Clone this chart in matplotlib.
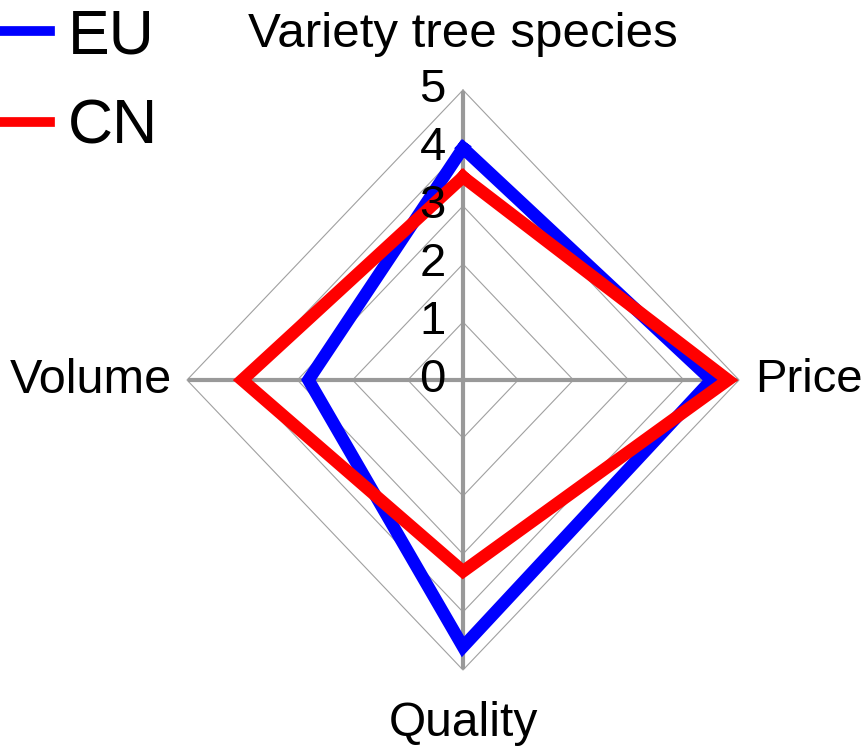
import matplotlib.pyplot as plt
import numpy as np

plt.rcParams['font.family'] = ['Liberation Sans', 'DejaVu Sans']

# axes of the radar, clockwise from the top
categories = ['Variety tree species', 'Price', 'Quality', 'Volume']
eu = [4.0, 4.5, 4.6, 2.8]
cn = [3.5, 4.8, 3.3, 4.0]
ticks = [0, 1, 2, 3, 4, 5]

# unit directions of the four spokes (top, right, bottom, left)
dx = np.array([0, 1, 0, -1])
dy = np.array([1, 0, -1, 0])

fig = plt.figure(figsize=(8.64, 7.47), dpi=100)
ax = fig.add_axes([0, 0, 1, 1])
# pixel scale: 55.2 px per unit across, 58 px per unit up/down
ax.set_xlim(-463 / 55.2, (864 - 463) / 55.2)
ax.set_ylim(-(747 - 380) / 58.0, 380 / 58.0)
ax.axis('off')

# diamond grid
for t in ticks[1:]:
    gx = np.append(dx * t, dx[0] * t)
    gy = np.append(dy * t, dy[0] * t)
    ax.plot(gx, gy, color='#a0a0a0', lw=0.8, zorder=1)

# spokes
for i in range(4):
    ax.plot([0, dx[i] * 4.95], [0, dy[i] * 4.95], color='#999999', lw=3, zorder=2)

# tick labels along the vertical spoke
for t in ticks:
    ax.text(-0.55, t, str(t), fontsize=34, ha='center', va='center', zorder=5)

# data polygons
for vals, col, name in [(eu, 'blue', 'EU'), (cn, 'red', 'CN')]:
    v = np.array(vals)
    px = np.append(dx * v, dx[0] * v[0])
    py = np.append(dy * v, dy[0] * v[0])
    ax.plot(px, py, color=col, lw=9, solid_joinstyle='miter', label=name, zorder=3)

# category labels
ax.text(0, 5.95, categories[0], fontsize=35.5, ha='center', va='center')
ax.text(5.29, 0, categories[1], fontsize=34, ha='left', va='center')
ax.text(0, -5.93, categories[2], fontsize=34.5, ha='center', va='center')
ax.text(-5.28, 0, categories[3], fontsize=35, ha='right', va='center')

leg = ax.legend(loc='upper left', bbox_to_anchor=(-0.033, 1.024), fontsize=45,
                frameon=False, handlelength=0.85, handletextpad=0.29,
                labelspacing=0.51, borderaxespad=0)
for h in leg.get_lines():
    h.set_linewidth(7)

plt.savefig('out.png')
